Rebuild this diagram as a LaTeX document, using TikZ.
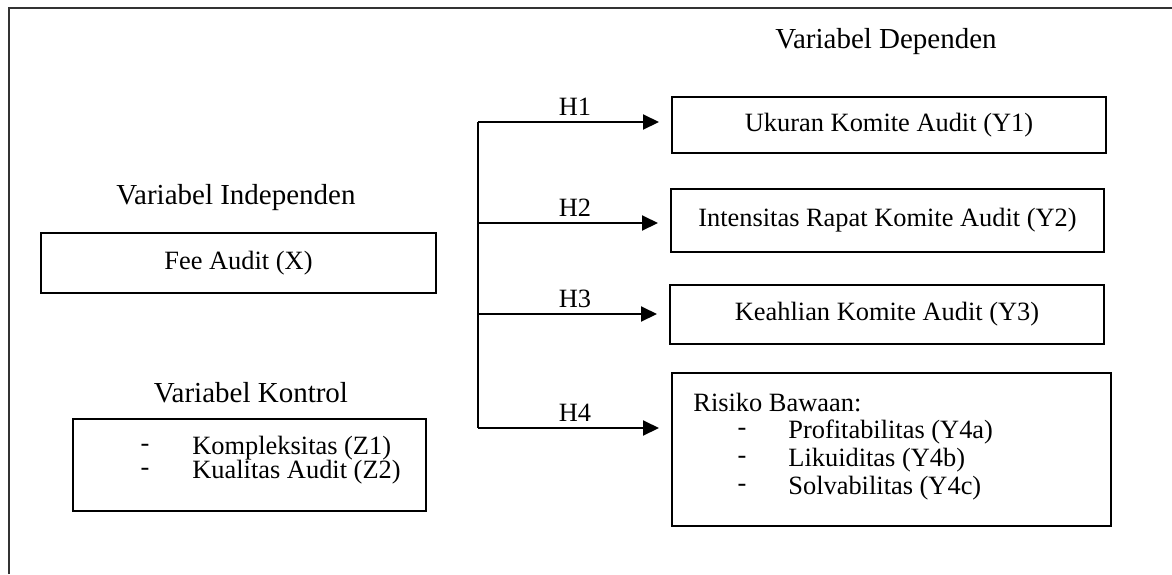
\documentclass[tikz,border=0pt]{standalone}
\usepackage{fontspec}
\setmainfont{Liberation Serif}
\usetikzlibrary{arrows.meta,calc}
\begin{document}
\begin{tikzpicture}[x=0.5pt,y=-0.5pt,
  font=\fontsize{13.2pt}{16pt}\selectfont,
  box/.style={draw=black,line width=1pt,rectangle,inner sep=0pt},
  lbl/.style={inner sep=0pt},
  head/.style={inner sep=0pt,font=\fontsize{14.5pt}{17pt}\selectfont},
  arr/.style={line width=1pt,-{Triangle[length=8pt,width=7.5pt]},shorten >=6pt},
  brk/.style={line width=1pt},
  frame/.style={line width=0.9pt,draw=black!80}]
\useasboundingbox (0,0) rectangle (1172,574);
% frame
\coordinate (fbl) at (9,574);
\coordinate (ftl) at (9,8);
\coordinate (ftr) at (1172,8);
\draw[frame] (fbl) -- (ftl) -- (ftr);
% headings
\node[head] (tdep) at (886,42) {Variabel Dependen};
\node[head] (tind) at (236,198) {Variabel Independen};
\node[head] (tkon) at (251,393) {Variabel Kontrol};
% boxes
\node[box,minimum width=197.5pt,minimum height=30pt] (fee) at (238.5,263) {Fee Audit (X)};
\node[box,minimum width=217pt,minimum height=28pt] (y1) at (889,125) {Ukuran Komite Audit (Y1)};
\node[box,minimum width=216.5pt,minimum height=31.5pt] (y2) at (887.5,220.5) {Intensitas Rapat Komite Audit (Y2)};
\node[box,minimum width=217pt,minimum height=29.5pt] (y3) at (887,314.5) {Keahlian Komite Audit (Y3)};
\node[box,minimum width=219.5pt,minimum height=76.5pt] (y4) at (891.5,449.5) {};
\node[box,minimum width=176.5pt,minimum height=46pt] (kon) at (249.5,465) {};
% control list
\node[lbl] (kd1) at (145,448) {-};
\node[lbl,anchor=west] (k1) at (192,448) {Kompleksitas (Z1)};
\node[lbl] (kd2) at (145,472) {-};
\node[lbl,anchor=west] (k2) at (192,472) {Kualitas Audit (Z2)};
% risk list
\node[lbl,anchor=west] (r0) at (693,403) {Risiko Bawaan:};
\node[lbl] (rd1) at (742,432) {-};
\node[lbl,anchor=west] (r1) at (788,432) {Profitabilitas (Y4a)};
\node[lbl] (rd2) at (742,460) {-};
\node[lbl,anchor=west] (r2) at (788,460) {Likuiditas (Y4b)};
\node[lbl] (rd3) at (742,488) {-};
\node[lbl,anchor=west] (r3) at (788,488) {Solvabilitas (Y4c)};
% bracket and arrows
\coordinate (b1) at (478,122);
\coordinate (b2) at (478,223);
\coordinate (b3) at (478,314);
\coordinate (b4) at (478,428);
\draw[brk] (b1) -- (b4);
\draw[arr] (b1) -- (b1 -| y1.west);
\draw[arr] (b2) -- (b2 -| y2.west);
\draw[arr] (b3) -- (b3 -| y3.west);
\draw[arr] (b4) -- (b4 -| y4.west);
\node[lbl] (h1) at (575,107) {H1};
\node[lbl] (h2) at (575,208) {H2};
\node[lbl] (h3) at (575,299) {H3};
\node[lbl] (h4) at (575,413) {H4};
\end{tikzpicture}
\end{document}
